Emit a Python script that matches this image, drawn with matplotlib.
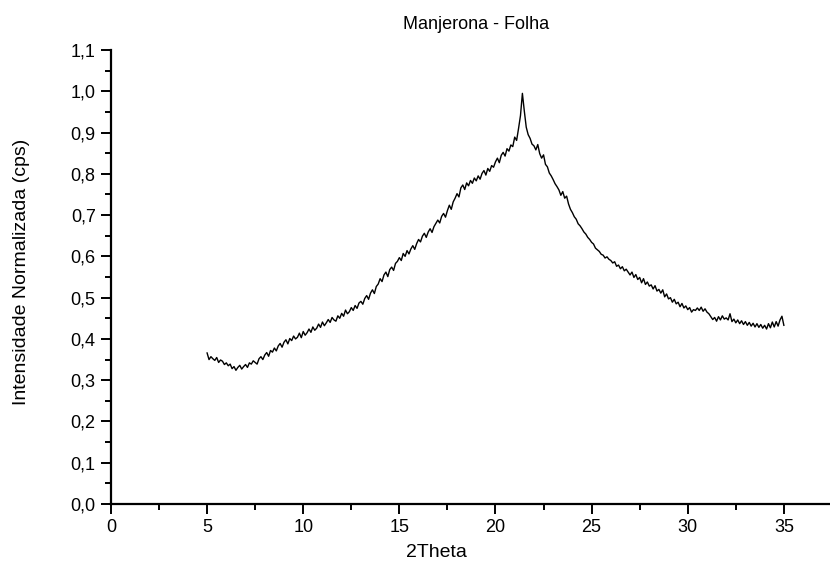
import numpy as np
import matplotlib.pyplot as plt
from matplotlib.ticker import MultipleLocator, FixedLocator

plt.rcParams['font.family'] = ['Liberation Sans', 'DejaVu Sans']

# diffractogram, 2theta from 5 to 35 in steps of 0.1
two_theta_start = 5.0
two_theta_step = 0.1
intensity = [
    0.366, 0.350, 0.357, 0.352, 0.348, 0.355, 0.343, 0.349, 0.346, 0.338,
    0.342, 0.335, 0.339, 0.328, 0.333, 0.324, 0.331, 0.336, 0.327, 0.333,
    0.338, 0.331, 0.342, 0.339, 0.347, 0.343, 0.339, 0.352, 0.357, 0.350,
    0.361, 0.367, 0.358, 0.372, 0.368, 0.378, 0.371, 0.383, 0.389, 0.380,
    0.392, 0.398, 0.388, 0.401, 0.396, 0.407, 0.400, 0.404, 0.414, 0.403,
    0.418, 0.409, 0.415, 0.424, 0.416, 0.429, 0.421, 0.426, 0.436, 0.428,
    0.441, 0.432, 0.439, 0.447, 0.440, 0.452, 0.446, 0.443, 0.456, 0.450,
    0.462, 0.455, 0.470, 0.461, 0.466, 0.476, 0.469, 0.481, 0.474, 0.487,
    0.491, 0.484, 0.498, 0.505, 0.496, 0.511, 0.519, 0.510, 0.527, 0.533,
    0.546, 0.539, 0.555, 0.562, 0.551, 0.568, 0.574, 0.566, 0.583, 0.588,
    0.597, 0.590, 0.607, 0.600, 0.614, 0.606, 0.618, 0.626, 0.617, 0.631,
    0.641, 0.635, 0.649, 0.656, 0.646, 0.659, 0.667, 0.658, 0.672, 0.680,
    0.688, 0.681, 0.697, 0.704, 0.695, 0.711, 0.724, 0.714, 0.732, 0.741,
    0.752, 0.744, 0.766, 0.773, 0.762, 0.778, 0.771, 0.784, 0.777, 0.790,
    0.783, 0.795, 0.787, 0.801, 0.808, 0.797, 0.813, 0.806, 0.820, 0.816,
    0.829, 0.838, 0.827, 0.845, 0.852, 0.843, 0.861, 0.855, 0.870, 0.866,
    0.889, 0.881, 0.910, 0.941, 0.995, 0.952, 0.913, 0.895, 0.886, 0.872,
    0.868, 0.858, 0.871, 0.849, 0.838, 0.846, 0.823, 0.817, 0.802, 0.795,
    0.786, 0.776, 0.769, 0.761, 0.748, 0.757, 0.741, 0.746, 0.727, 0.714,
    0.706, 0.696, 0.690, 0.679, 0.674, 0.667, 0.659, 0.654, 0.646, 0.641,
    0.634, 0.630, 0.620, 0.616, 0.612, 0.605, 0.603, 0.596, 0.599, 0.593,
    0.590, 0.584, 0.587, 0.576, 0.579, 0.570, 0.575, 0.565, 0.569, 0.562,
    0.555, 0.562, 0.549, 0.556, 0.544, 0.549, 0.536, 0.546, 0.532, 0.538,
    0.528, 0.531, 0.521, 0.529, 0.516, 0.520, 0.511, 0.519, 0.502, 0.509,
    0.497, 0.500, 0.489, 0.496, 0.485, 0.489, 0.478, 0.486, 0.475, 0.480,
    0.471, 0.476, 0.465, 0.471, 0.469, 0.475, 0.469, 0.477, 0.467, 0.473,
    0.465, 0.461, 0.454, 0.447, 0.452, 0.443, 0.454, 0.446, 0.456, 0.448,
    0.451, 0.446, 0.461, 0.442, 0.448, 0.439, 0.446, 0.437, 0.444, 0.435,
    0.442, 0.433, 0.440, 0.431, 0.438, 0.429, 0.437, 0.428, 0.435, 0.426,
    0.433, 0.424, 0.437, 0.427, 0.441, 0.429, 0.442, 0.431, 0.446, 0.455,
    0.433,
]

x_ticks = [0, 5, 10, 15, 20, 25, 30, 35]
y_ticks = [0.0, 0.1, 0.2, 0.3, 0.4, 0.5, 0.6, 0.7, 0.8, 0.9, 1.0, 1.1]
y_tick_labels = ['0,0', '0,1', '0,2', '0,3', '0,4', '0,5', '0,6',
                 '0,7', '0,8', '0,9', '1,0', '1,1']

two_theta = two_theta_start + two_theta_step * np.arange(len(intensity))

fig = plt.figure(figsize=(8.30, 5.71), dpi=100)
ax = fig.add_axes([0.1337, 0.1173, 0.8663, 0.7951])

ax.plot(two_theta, intensity, color='black', linewidth=1.0)

ax.set_xlim(0, 37.4)
ax.set_ylim(0, 1.1)
ax.xaxis.set_major_locator(FixedLocator(x_ticks))
ax.xaxis.set_minor_locator(MultipleLocator(2.5))
ax.set_yticks(y_ticks)
ax.set_yticklabels(y_tick_labels)
ax.yaxis.set_minor_locator(MultipleLocator(0.05))

for side in ('top', 'right'):
    ax.spines[side].set_visible(False)
for side in ('left', 'bottom'):
    ax.spines[side].set_linewidth(1.6)

ax.tick_params(which='major', direction='out', length=7, width=1.4,
               labelsize=13, pad=4)
ax.tick_params(which='minor', direction='out', length=4, width=1.4)

ax.set_xlabel('2Theta', fontsize=14)
ax.xaxis.set_label_coords(0.453, -0.089)
ax.set_ylabel('Intensidade Normalizada (cps)', fontsize=14)
ax.yaxis.set_label_coords(-0.112, 0.511)
ax.set_title('Manjerona - Folha', fontsize=13, pad=15, x=0.508)

fig.savefig('out.png', dpi=100)
